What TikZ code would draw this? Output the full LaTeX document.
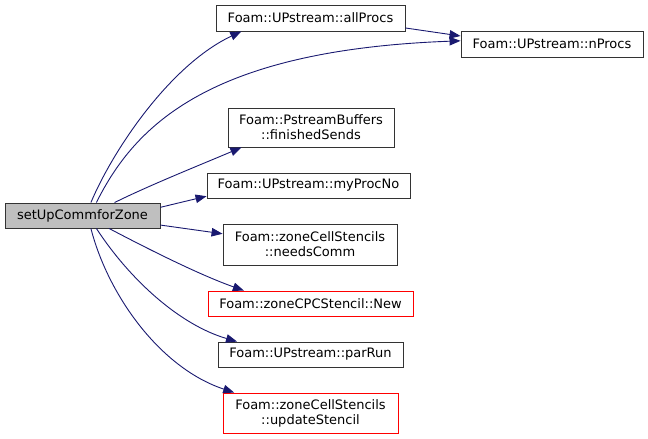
\documentclass[tikz,border=0pt]{standalone}
\usepackage{fontspec}
\setmainfont{DejaVu Sans}
\usetikzlibrary{arrows.meta}
\definecolor{edgeblue}{RGB}{25,25,112}
\definecolor{maingray}{RGB}{191,191,191}
\tikzset{
  box/.style={draw=black!80, line width=0.9pt, inner sep=0pt, align=center,
    font=\fontsize{13}{15}\selectfont, text=black},
  redbox/.style={box, draw=red},
  call/.style={draw=edgeblue, line width=0.9pt, -{Triangle[length=11pt,width=8.5pt]}},
}
\begin{document}
\begin{tikzpicture}[x=1pt,y=-1pt]
\useasboundingbox (0,0) rectangle (648,439);
\node[box, fill=maingray, minimum width=155pt, minimum height=25pt] (main) at (82.5,215.5) {setUpCommforZone};
\node[box, minimum width=189pt, minimum height=26pt] (allProcs) at (310.5,18) {Foam::UPstream::allProcs};
\node[box, minimum width=182pt, minimum height=26pt] (nProcs) at (552,44) {Foam::UPstream::nProcs};
\node[box, minimum width=166pt, minimum height=39pt] (finished) at (311,127.5) {Foam::PstreamBuffers\\::finishedSends};
\node[box, minimum width=203pt, minimum height=25pt] (myProcNo) at (308.5,185.5) {Foam::UPstream::myProcNo};
\node[box, minimum width=174pt, minimum height=41pt] (needsComm) at (310,244.5) {Foam::zoneCellStencils\\::needsComm};
\node[redbox, minimum width=205pt, minimum height=25pt] (New) at (310.5,303.5) {Foam::zoneCPCStencil::New};
\node[box, minimum width=185pt, minimum height=25pt] (parRun) at (310.5,354.5) {Foam::UPstream::parRun};
\node[redbox, minimum width=175pt, minimum height=40pt] (update) at (310.5,413) {Foam::zoneCellStencils\\::updateStencil};

\draw[call] (main.57) .. controls (113,150) and (170,65) .. (allProcs.191.2);
\draw[call] (main.43.9) .. controls (135,125) and (210,50) .. (nProcs.178.7);
\draw[call] (allProcs.-6) -- (nProcs.175.6);
\draw[call] (main.22.6) .. controls (150,185) and (200,165) .. (finished.196);
\draw[call] (main.6.9) -- (myProcNo.186.5);
\draw[call] (main.-7.7) -- (needsComm.173.8);
\draw[call] (main.-26.6) .. controls (150,250) and (200,275) .. (New.169.9);
\draw[call] (main.-43.9) .. controls (130,280) and (180,325) .. (parRun.170.6);
\draw[call] (main.-57.4) .. controls (108,295) and (160,368) .. (update.165.7);
\end{tikzpicture}
\end{document}
